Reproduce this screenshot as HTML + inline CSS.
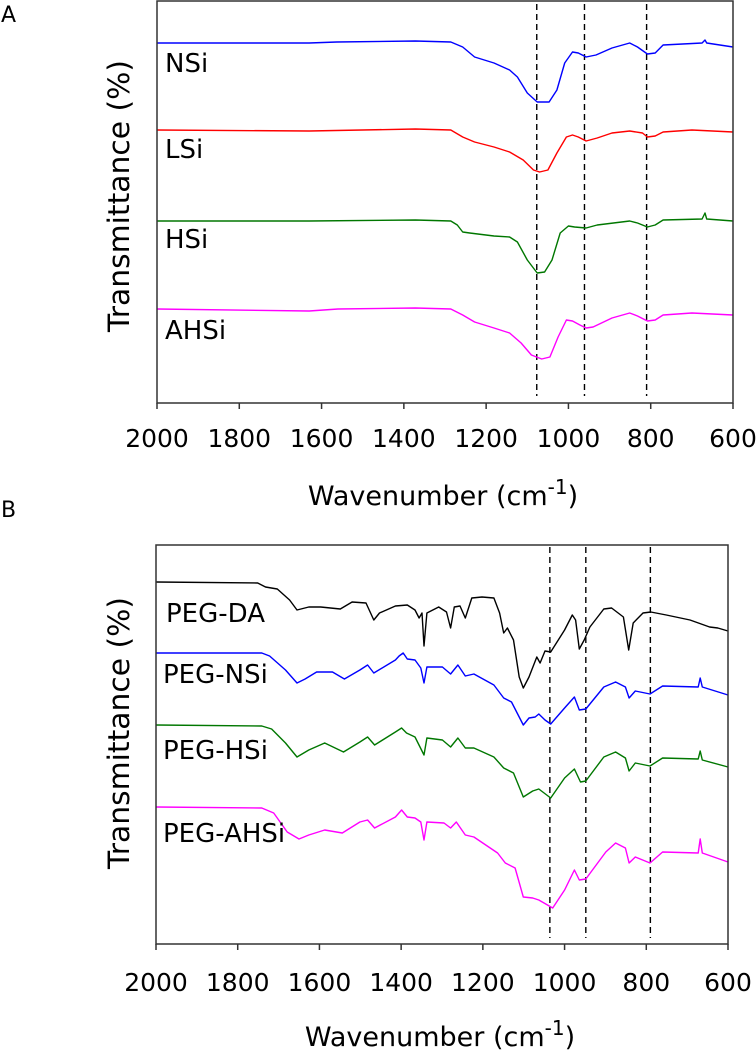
<!DOCTYPE html>
<html><head><meta charset="utf-8"><style>
html,body{margin:0;padding:0;background:#fff;}
svg{display:block;font-family:"DejaVu Sans","Liberation Sans",sans-serif;}
</style></head><body>
<svg id="fig" width="756" height="1050" viewBox="0 0 756 1050" xmlns="http://www.w3.org/2000/svg"></svg>
<script>
// ---------- data (wavenumber in cm-1, transmittance in arbitrary offset units) ----------
const tickLabels = [2000,1800,1600,1400,1200,1000,800,600];
const dashedA = [1077,961,810];
const dashedB = [1036,948,790];

const nsiWn = [2000,1630,1563,1372,1286,1257,1228,1181,1143,1124,1100,1076,1047,1028,1009,990,976,957,933,894,851,832,808,789,770,675,668,664,600];
const nsiT  = [360,360,361,362,361,356,346,340,333,326,310,301,301,313,340,351,350,346,348,355,360,356,349,350,358,360,363,360,356];
const lsiWn = [2000,1630,1372,1286,1257,1228,1181,1143,1110,1085,1070,1050,1028,1005,990,976,957,930,894,851,820,808,789,770,700,600];
const lsiT  = [273,272,274,273,266,261,256,251,243,233,231,233,250,266,268,266,262,265,270,272,270,266,267,271,273,271];
const hsiWn = [2000,1630,1372,1286,1270,1257,1240,1181,1143,1124,1100,1076,1058,1040,1020,1000,985,957,930,851,832,808,789,770,675,668,664,600];
const hsiT  = [182,182,183,182,178,171,170,167,166,161,143,130,131,143,170,177,176,175,178,182,180,176,178,183,184,190,184,182];
const ahsiWn = [2000,1630,1560,1372,1286,1257,1228,1181,1143,1115,1090,1065,1045,1025,1005,990,972,957,940,894,851,832,808,789,770,700,600];
const ahsiT  = [94,92,94,95,94,88,81,75,70,60,48,44,46,66,83,82,78,75,76,85,90,87,82,83,88,90,88];

const pegdaWn = [2000,1751,1732,1703,1673,1655,1626,1597,1549,1520,1486,1467,1453,1414,1385,1366,1356,1349,1344,1337,1308,1289,1279,1270,1256,1243,1227,1202,1173,1159,1149,1140,1125,1111,1101,1087,1068,1060,1048,1034,1000,981,973,964,952,938,904,885,856,843,832,808,789,751,693,645,625,600];
const pegdaT  = [362,361,357,355,344,334,337,337,335,342,341,324,331,338,339,334,326,331,298,331,337,332,316,337,338,326,346,347,346,331,311,316,304,267,256,267,287,281,293,292,314,329,324,295,304,317,335,336,327,294,321,331,332,329,324,317,316,313];
const pegnsiWn = [2000,1741,1722,1683,1655,1635,1607,1568,1539,1501,1482,1467,1414,1405,1395,1385,1366,1352,1344,1337,1299,1279,1261,1243,1222,1173,1149,1130,1101,1087,1072,1063,1048,1034,1000,976,964,948,904,875,851,842,827,791,760,673,668,663,600];
const pegnsiT  = [291,291,288,274,261,265,272,272,265,274,279,271,284,288,291,285,284,276,261,277,277,270,279,268,270,259,246,242,219,226,227,230,224,220,236,247,234,235,257,262,257,246,253,250,258,257,266,257,249];
const peghsiWn = [2000,1741,1717,1683,1655,1626,1587,1541,1501,1482,1465,1414,1399,1387,1366,1344,1337,1299,1279,1261,1243,1222,1173,1149,1125,1101,1078,1063,1034,1000,976,961,948,904,875,851,842,827,791,760,673,668,663,600];
const peghsiT  = [219,218,215,201,187,194,201,192,202,207,199,212,216,211,207,189,206,204,197,206,196,196,187,176,171,147,153,155,146,166,175,162,163,187,192,186,173,181,178,186,185,193,184,177];
const pegahsiWn = [2000,1741,1712,1679,1650,1626,1587,1544,1501,1482,1465,1414,1399,1385,1366,1352,1344,1337,1295,1279,1265,1243,1222,1164,1145,1121,1101,1078,1063,1029,1000,976,964,948,899,875,851,842,827,791,760,673,668,663,600];
const pegahsiT  = [137,136,131,112,105,109,114,111,122,124,116,127,134,127,126,122,104,122,121,116,122,109,107,91,81,76,47,46,44,36,54,74,64,65,92,101,96,81,87,81,92,91,105,91,82];

// ---------- drawing ----------
const NS = 'http://www.w3.org/2000/svg';
const svg = document.getElementById('fig');
function mk(tag, attrs, parent){
  const e = document.createElementNS(NS, tag);
  for (const k in attrs) e.setAttribute(k, attrs[k]);
  (parent||svg).appendChild(e);
  return e;
}

const panels = [
  {id:'a', left:157, right:733, top:1, bottom:403, ymax:402, dashed:dashedA, dashTop:4, dashBottom:396,
   letter:'A', letterY:22, tickY:447, titleY:505, yTitleCY:196,
   series:[
     {name:'NSi', wn:nsiWn, t:nsiT, color:'#0000ff', lx:165, ly:72},
     {name:'LSi', wn:lsiWn, t:lsiT, color:'#ff0000', lx:165, ly:158},
     {name:'HSi', wn:hsiWn, t:hsiT, color:'#007700', lx:165, ly:248},
     {name:'AHSi', wn:ahsiWn, t:ahsiT, color:'#ff00ff', lx:165, ly:339}
   ]},
  {id:'b', left:156, right:728, top:545, bottom:944, ymax:399, dashed:dashedB, dashTop:547, dashBottom:938,
   letter:'B', letterY:517, tickY:991, titleY:1046, yTitleCY:733,
   series:[
     {name:'PEG-DA', wn:pegdaWn, t:pegdaT, color:'#000000', lx:166, ly:622},
     {name:'PEG-NSi', wn:pegnsiWn, t:pegnsiT, color:'#0000ff', lx:163, ly:683},
     {name:'PEG-HSi', wn:peghsiWn, t:peghsiT, color:'#007700', lx:163, ly:759},
     {name:'PEG-AHSi', wn:pegahsiWn, t:pegahsiT, color:'#ff00ff', lx:163, ly:842}
   ]}
];

panels.forEach(p => {
  const g = mk('g', {});
  
  
  const xs = w => p.left + (2000 - w) / 1400 * (p.right - p.left);
  const ys = v => p.bottom - v / p.ymax * (p.bottom - p.top);

  const letter = mk('text', {x:1, y:p.letterY, 'font-size':22, fill:'#000'}, g);
  letter.textContent = p.letter;
  
  

  p.dashed.forEach(w => {
    const l = mk('line', {x1:xs(w), x2:xs(w), y1:p.dashTop, y2:p.dashBottom, stroke:'#000', 'stroke-width':1.4, 'stroke-dasharray':'6,4'}, g);
    
    
  });

  p.series.forEach(s => {
    const pts = s.wn.map((w,i) => xs(w).toFixed(1) + ',' + ys(s.t[i]).toFixed(1)).join(' ');
    const pl = mk('polyline', {points:pts, fill:'none', stroke:s.color, 'stroke-width':1.4, 'stroke-linejoin':'round'}, g);
    
    
    const t = mk('text', {x:s.lx, y:s.ly, 'font-size':26, fill:'#000'}, g);
    t.textContent = s.name;
    
    
  });

  const fr = mk('rect', {x:p.left, y:p.top, width:p.right-p.left, height:p.bottom-p.top, fill:'none', stroke:'#333', 'stroke-width':1.5}, g);
  
  

  tickLabels.forEach(w => {
    const tk = mk('line', {x1:xs(w), x2:xs(w), y1:p.bottom, y2:p.bottom+6, stroke:'#333', 'stroke-width':1.5}, g);
    
    
    const tl = mk('text', {x:xs(w), y:p.tickY, 'font-size':25, 'text-anchor':'middle', fill:'#000'}, g);
    tl.textContent = w;
    
    
  });

  const xt = mk('text', {x:(p.left+p.right)/2 - 2, y:p.titleY, 'font-size':27, 'text-anchor':'middle', fill:'#000'}, g);
  xt.innerHTML = 'Wavenumber (cm<tspan dy="-11" font-size="20">-1</tspan><tspan dy="11">)</tspan>';
  
  
  const yt = mk('text', {x:0, y:0, 'font-size':29, 'text-anchor':'middle', fill:'#000',
    textLength:272, lengthAdjust:'spacingAndGlyphs',
    transform:'translate(129,' + p.yTitleCY + ') rotate(-90)'}, g);
  yt.textContent = 'Transmittance (%)';
  
  
});
</script>
</body></html>
